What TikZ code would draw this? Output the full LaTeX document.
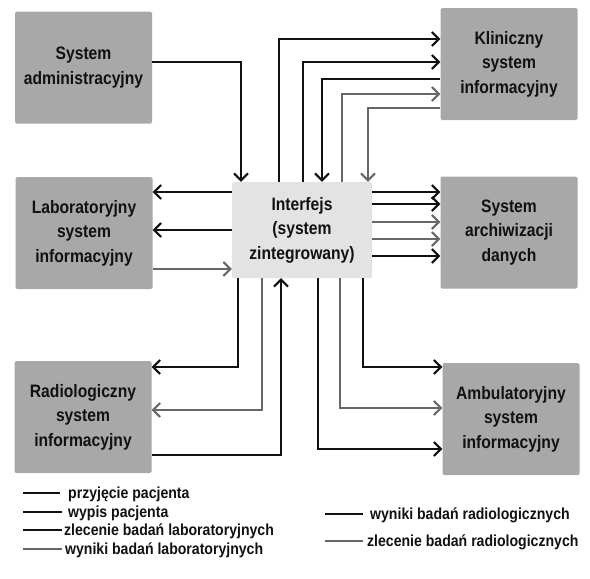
\documentclass[tikz,border=0pt]{standalone}
\usepackage{fontspec}
\usetikzlibrary{arrows.meta}
\newfontfamily\diagfont{Liberation Sans}[FakeStretch=0.87]
\newfontfamily\legfont{Liberation Sans}[FakeStretch=0.88]
\definecolor{boxgray}{HTML}{A8A8A8}
\definecolor{ifacegray}{HTML}{E3E3E3}
\definecolor{lineblack}{HTML}{111111}
\definecolor{linegray}{HTML}{676767}
\definecolor{textblack}{HTML}{111111}
\tikzset{
  sysbox/.style={fill=boxgray, minimum width=137pt, minimum height=112pt,
    rounded corners=1.5pt, inner sep=0pt, align=center, text=textblack,
    font={\diagfont\bfseries\fontsize{18}{24.5}\selectfont}},
  ifacebox/.style={sysbox, fill=ifacegray, minimum width=140pt, minimum height=96pt},
  flowk/.style={line width=2pt, draw=lineblack,
    -{Straight Barb[length=7pt,width=14pt]}},
  flowg/.style={flowk, draw=linegray},
  legk/.style={line width=2pt, draw=lineblack},
  legg/.style={line width=2pt, draw=linegray},
  legtext/.style={anchor=base west, inner sep=0pt, text=textblack,
    font={\legfont\bfseries\fontsize{16}{18}\selectfont}},
}
\begin{document}
\begin{tikzpicture}[x=1pt, y=-1pt]
\fill[white] (0,0) rectangle (590,579);
\useasboundingbox (0,0) rectangle (590,579);

% systems
\node[sysbox] (admin) at (83.5,67.5) {System\\administracyjny};
\node[sysbox] (klin)  at (509,64)    {Kliniczny\\system\\informacyjny};
\node[sysbox] (lab)   at (84,233)    {Laboratoryjny\\system\\informacyjny};
\node[ifacebox] (iface) at (302,230) {Interfejs\\(system\\zintegrowany)};
\node[sysbox] (arch)  at (509,232.5) {System\\archiwizacji\\danych};
\node[sysbox] (radio) at (83,417)    {Radiologiczny\\system\\informacyjny};
\node[sysbox] (amb)   at (511,419)   {Ambulatoryjny\\system\\informacyjny};

% administration -> interface
\draw[flowk] (admin.east |- 0,62) -| (iface.north -| 241,0);

% interface <-> clinical system
\draw[flowk] (iface.north -| 279,0) |- (klin.west |- 0,39);
\draw[flowk] (iface.north -| 303,0) |- (klin.west |- 0,62);
\draw[flowk] (klin.west |- 0,79) -| (iface.north -| 322,0);
\draw[flowg] (iface.north -| 342,0) |- (klin.west |- 0,94);
\draw[flowg] (klin.west |- 0,108) -| (iface.north -| 368,0);

% interface <-> laboratory system
\draw[flowk] (iface.west |- 0,192) -- (lab.east |- 0,192);
\draw[flowk] (iface.west |- 0,230) -- (lab.east |- 0,230);
\draw[flowg] (lab.east |- 0,269) -- (iface.west |- 0,269);

% interface -> archive
\draw[flowk] (iface.east |- 0,192) -- (arch.west |- 0,192);
\draw[flowk] (iface.east |- 0,204) -- (arch.west |- 0,204);
\draw[flowg] (iface.east |- 0,222) -- (arch.west |- 0,222);
\draw[flowg] (iface.east |- 0,239) -- (arch.west |- 0,239);
\draw[flowk] (iface.east |- 0,256) -- (arch.west |- 0,256);

% interface <-> radiology system
\draw[flowk] (iface.south -| 238,0) |- (radio.east |- 0,367);
\draw[flowg] (iface.south -| 262,0) |- (radio.east |- 0,410);
\draw[flowk] (radio.east |- 0,455) -| (iface.south -| 281,0);

% interface -> ambulatory system
\draw[flowk] (iface.south -| 318,0) |- (amb.west |- 0,449);
\draw[flowg] (iface.south -| 340,0) |- (amb.west |- 0,408);
\draw[flowk] (iface.south -| 363,0) |- (amb.west |- 0,367);

% legend, left column
\node[legtext] (leg1) at (68,498) {przyjęcie pacjenta};
\coordinate (leg1a) at (23,493); \coordinate (leg1b) at (60,493);
\draw[legk] (leg1a) -- (leg1b);
\node[legtext] (leg2) at (68,517) {wypis pacjenta};
\coordinate (leg2a) at (23,512); \coordinate (leg2b) at (62,512);
\draw[legk] (leg2a) -- (leg2b);
\node[legtext] (leg3) at (64,535) {zlecenie badań laboratoryjnych};
\coordinate (leg3a) at (23,530); \coordinate (leg3b) at (62,530);
\draw[legk] (leg3a) -- (leg3b);
\node[legtext] (leg4) at (65,554) {wyniki badań laboratoryjnych};
\coordinate (leg4a) at (23,549); \coordinate (leg4b) at (62,549);
\draw[legg] (leg4a) -- (leg4b);

% legend, right column
\node[legtext] (leg5) at (370,519) {wyniki badań radiologicznych};
\coordinate (leg5a) at (325,514); \coordinate (leg5b) at (363,514);
\draw[legk] (leg5a) -- (leg5b);
\node[legtext] (leg6) at (367,546) {zlecenie badań radiologicznych};
\coordinate (leg6a) at (325,541); \coordinate (leg6b) at (363,541);
\draw[legg] (leg6a) -- (leg6b);
\end{tikzpicture}
\end{document}
